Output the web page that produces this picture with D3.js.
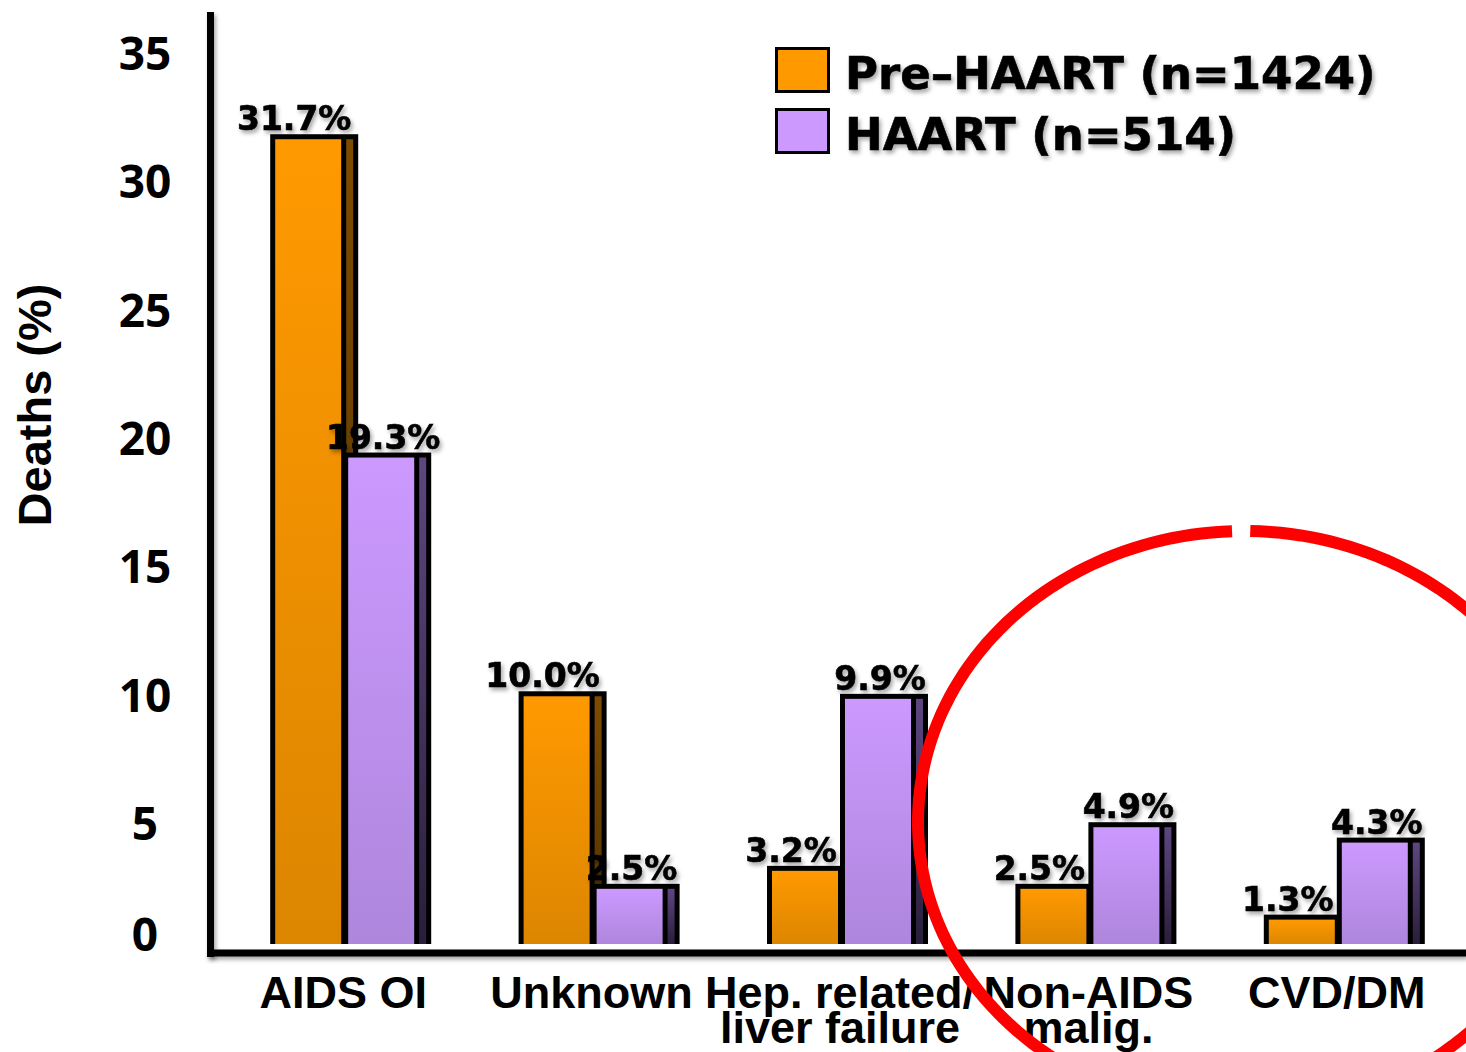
<!DOCTYPE html>
<html lang="en">
<head>
<meta charset="UTF-8">
<title>Deaths by cause, Pre-HAART vs HAART</title>
<script src="https://d3js.org/d3.v7.min.js"></script>
<style>
    body { margin: 0; background: #fff; }
    svg { display: block; }
    .tick-label { font-family: "Open Sans", sans-serif; font-weight: 700; font-size: 46px; fill: #000; }
    .axis-title { font-family: "Liberation Sans", Arial, sans-serif; font-weight: 700; font-size: 47px; fill: #000; }
    .cat-label { font-family: "Liberation Sans", Arial, sans-serif; font-weight: 700; font-size: 45px; fill: #000; }
    .value-label { font-family: "DejaVu Sans", Verdana, sans-serif; font-weight: 700; font-size: 33px; fill: #000; stroke: #000; stroke-width: 0.6px; }
    .legend-label { font-family: "DejaVu Sans", Verdana, sans-serif; font-weight: 700; font-size: 45px; fill: #000; stroke: #000; stroke-width: 0.6px; }
</style>
</head>
<body>
<svg width="1466" height="1052"></svg>

<script>

    var categories = ['AIDS OI', 'Unknown', 'Hep. related/\nliver failure', 'Non-AIDS\nmalig.', 'CVD/DM'];
    var preHaart = [31.7, 10.0, 3.2, 2.5, 1.3];
    var haart = [19.3, 2.5, 9.9, 4.9, 4.3];
    var seriesNames = ['Pre\u2013HAART (n=1424)', 'HAART (n=514)'];
    var yTicks = [0, 5, 10, 15, 20, 25, 30, 35];

    var svg = d3.select('svg');
    var width = +svg.attr('width');
    var height = +svg.attr('height');

    var x = d3.scaleBand()
            .domain(categories)
            .range([225, 1467]);

    var y = d3.scaleLinear()
            .domain([0, 35])
            .range([948, 49.5]);

    var defs = svg.append('defs');

    var shadow = defs.append('filter')
            .attr('id', 'shadow')
            .attr('filterUnits', 'userSpaceOnUse')
            .attr('x', 0).attr('y', 0)
            .attr('width', width).attr('height', height);
    shadow.append('feDropShadow')
            .attr('dx', 2).attr('dy', 3)
            .attr('stdDeviation', 2)
            .attr('flood-color', '#000')
            .attr('flood-opacity', 0.35);

    function gradient(id, top, bottom) {
        var g = defs.append('linearGradient')
                .attr('id', id)
                .attr('x1', 0).attr('y1', 0)
                .attr('x2', 0).attr('y2', 1);
        g.append('stop').attr('offset', '0%').attr('stop-color', top);
        g.append('stop').attr('offset', '100%').attr('stop-color', bottom);
    }
    gradient('orangeFront', '#ff9900', '#dc8600');
    gradient('orangeSide', '#7e4c00', '#4e2f00');
    gradient('purpleFront', '#cc99ff', '#ae86dc');
    gradient('purpleSide', '#5e4682', '#2a1e3a');

    var series = [
        {name: seriesNames[0], values: preHaart, front: 'url(#orangeFront)', side: 'url(#orangeSide)', swatch: '#ff9900', offset: -79, labelShift: -14},
        {name: seriesNames[1], values: haart, front: 'url(#purpleFront)', side: 'url(#purpleSide)', swatch: '#cc99ff', offset: -6, labelShift: 2}
    ];

    var barW = 88, border = 5, frontW = 66, sideW = 7;
    var base = y(0) - 4;

    // bars, drawn series by series so the HAART bar sits over the Pre-HAART side face
    series.forEach(function (s) {
        var g = svg.append('g');
        var bar = g.selectAll('g')
                .data(categories.map(function (c, i) { return {cat: c, v: s.values[i]}; }))
                .enter().append('g')
                .attr('transform', function (d) {
                    return 'translate(' + (x(d.cat) + x.bandwidth() / 2 + s.offset) + ',0)';
                });

        bar.append('rect')
                .attr('x', 0)
                .attr('y', function (d) { return y(d.v); })
                .attr('width', barW)
                .attr('height', function (d) { return base - y(d.v); })
                .attr('fill', '#000');

        bar.append('rect')
                .attr('x', border)
                .attr('y', function (d) { return y(d.v) + border; })
                .attr('width', frontW)
                .attr('height', function (d) { return base - y(d.v) - border; })
                .attr('fill', s.front);

        bar.append('rect')
                .attr('x', border * 2 + frontW)
                .attr('y', function (d) { return y(d.v) + border; })
                .attr('width', sideW)
                .attr('height', function (d) { return base - y(d.v) - border; })
                .attr('fill', s.side);
    });

    // value labels on top of everything
    series.forEach(function (s) {
        svg.append('g').selectAll('text')
                .data(categories.map(function (c, i) { return {cat: c, v: s.values[i]}; }))
                .enter().append('text')
                .attr('class', 'value-label')
                .attr('filter', 'url(#shadow)')
                .attr('text-anchor', 'middle')
                .attr('x', function (d) {
                    return x(d.cat) + x.bandwidth() / 2 + s.offset + border + frontW / 2 + s.labelShift;
                })
                .attr('y', function (d) { return y(d.v) - 4; })
                .text(function (d) { return d.v.toFixed(1) + '%'; });
    });

    // axes (thick black rules with a soft shadow)
    svg.append('rect')
            .attr('x', 207).attr('y', 12)
            .attr('width', 7).attr('height', 945)
            .attr('fill', '#000')
            .attr('filter', 'url(#shadow)');

    svg.append('rect')
            .attr('x', 207).attr('y', 949.5)
            .attr('width', width - 207).attr('height', 7)
            .attr('fill', '#000')
            .attr('filter', 'url(#shadow)');

    svg.append('g').selectAll('text')
            .data(yTicks)
            .enter().append('text')
            .attr('class', 'tick-label')
            .attr('text-anchor', 'middle')
            .attr('x', 145)
            .attr('y', function (d) { return y(d) + (d === 0 ? -14 : 4); })
            .attr('dy', '0.36em')
            .text(function (d) { return d; });

    svg.append('text')
            .attr('class', 'axis-title')
            .attr('text-anchor', 'middle')
            .attr('transform', 'translate(51,405) rotate(-90)')
            .text('Deaths (%)');

    var cats = svg.append('g').selectAll('text')
            .data(categories)
            .enter().append('text')
            .attr('class', 'cat-label')
            .attr('text-anchor', 'middle')
            .attr('x', function (d) { return x(d) + x.bandwidth() / 2 - 6; })
            .attr('y', 1008);

    cats.selectAll('tspan')
            .data(function (d) { return d.split('\n'); })
            .enter().append('tspan')
            .attr('x', function () { return d3.select(this.parentNode).attr('x'); })
            .attr('dy', function (d, i) { return i ? 35 : 0; })
            .text(function (d) { return d; });

    // legend
    var legend = svg.append('g')
            .attr('transform', 'translate(775,47)');

    var item = legend.selectAll('g')
            .data(series)
            .enter().append('g')
            .attr('transform', function (d, i) { return 'translate(0,' + i * 61 + ')'; });

    item.append('rect')
            .attr('x', 1.5).attr('y', 1.5)
            .attr('width', 52).attr('height', 43)
            .attr('fill', function (d) { return d.swatch; })
            .attr('stroke', '#000')
            .attr('stroke-width', 3);

    item.append('text')
            .attr('class', 'legend-label')
            .attr('filter', 'url(#shadow)')
            .attr('x', 70)
            .attr('y', 42)
            .text(function (d) { return d.name; });

    // red highlight ring round the two right-hand groups, with a small gap at the top
    var cx = 1244, cy = 822, rx = 326, ry = 291;
    var a0 = -88.9 * Math.PI / 180, a1 = -92.1 * Math.PI / 180 + 2 * Math.PI;
    var ring = d3.range(0, 201).map(function (k) {
        var t = a0 + (a1 - a0) * k / 200;
        return [cx + rx * Math.cos(t), cy + ry * Math.sin(t)];
    });
    svg.append('path')
            .attr('d', d3.line()(ring))
            .attr('fill', 'none')
            .attr('stroke', '#ff0000')
            .attr('stroke-width', 12);

</script>
</body>
</html>
